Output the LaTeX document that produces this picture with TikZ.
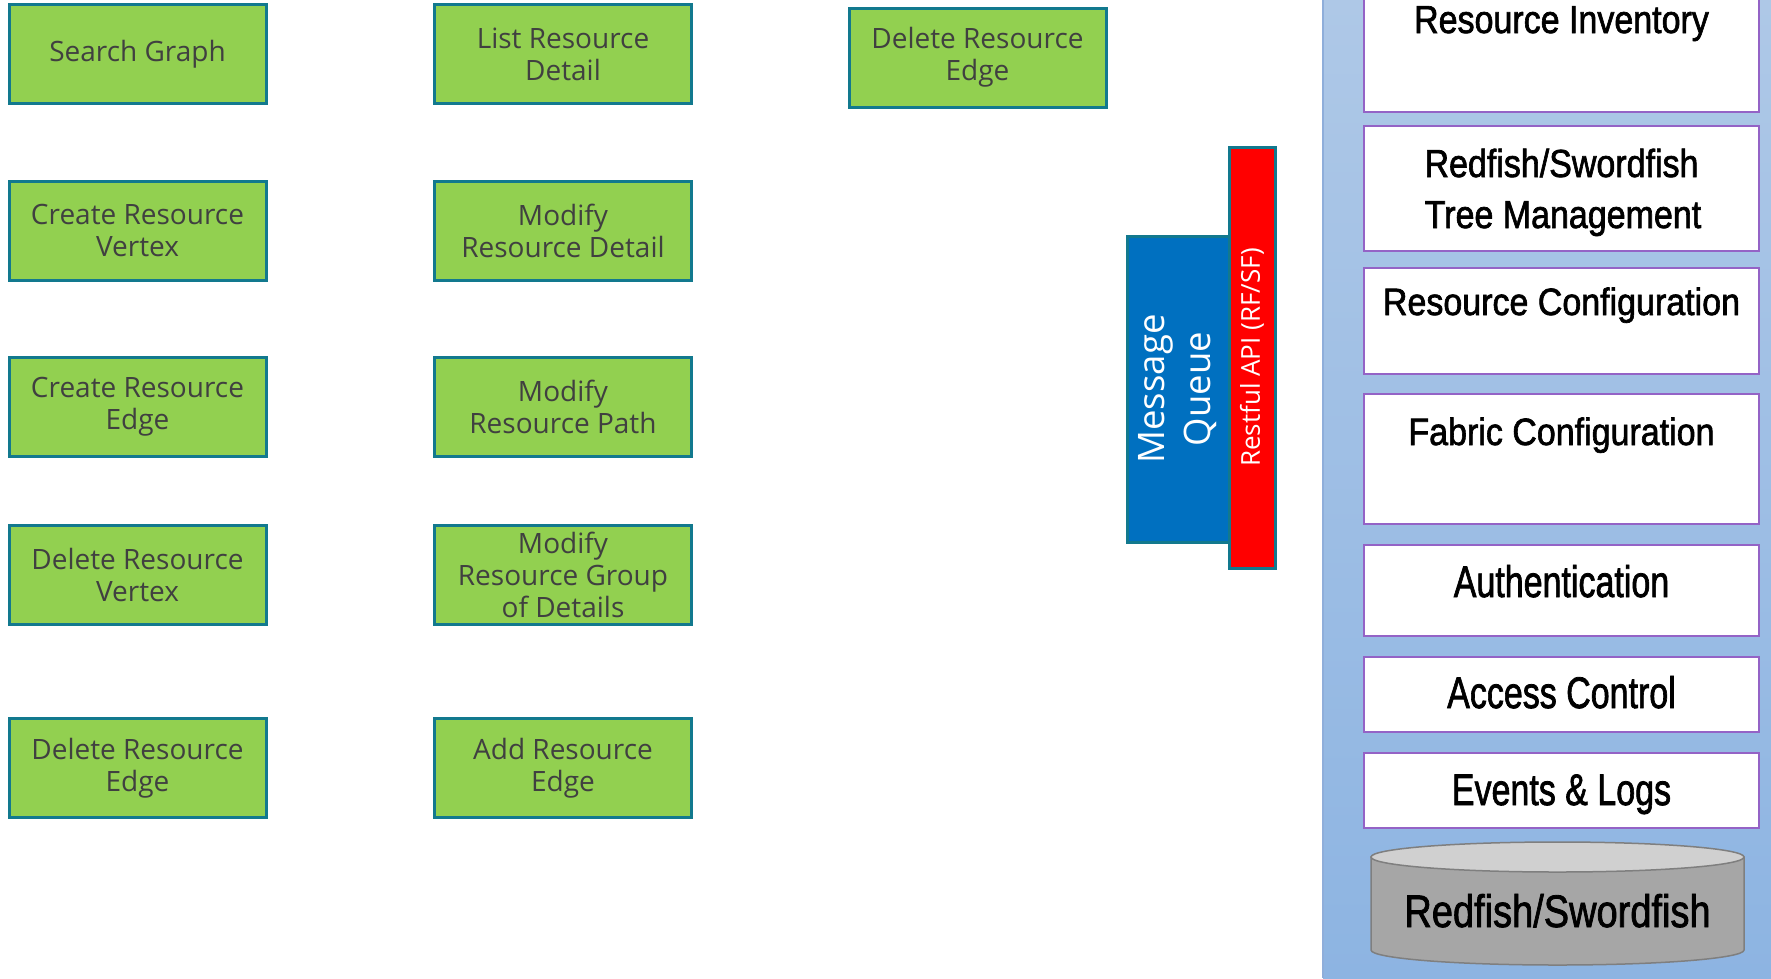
\documentclass[tikz,border=0pt]{standalone}
\usepackage{fontspec}
\setmainfont{Liberation Sans}
\newfontfamily\opensans{Open Sans}
\newfontfamily\svcfont[RawFeature={embolden=1.8}]{Liberation Sans}
\usetikzlibrary{positioning}

\definecolor{opgreen}{HTML}{92D050}
\definecolor{opedge}{HTML}{12798E}
\definecolor{optext}{HTML}{404040}
\definecolor{mqblue}{HTML}{0070C0}
\definecolor{apired}{HTML}{FF0000}
\definecolor{paneltop}{HTML}{AEC8E7}
\definecolor{panelbot}{HTML}{8DB4E2}
\definecolor{paneledge}{HTML}{8FAEDA}
\definecolor{svcedge}{HTML}{9463C6}
\definecolor{cylbody}{HTML}{A6A6A6}
\definecolor{cyltop}{HTML}{D0D0D0}
\definecolor{cyledge}{HTML}{7F7F7F}

\begin{document}
\begin{tikzpicture}[x=1pt,y=-1pt,
  opbox/.style={draw=opedge, fill=opgreen, line width=3pt,
    minimum width=257pt, minimum height=99pt, inner sep=0pt,
    align=center, text=optext, font=\opensans\fontsize{28}{32}\selectfont},
  svcbox/.style={draw=svcedge, fill=white, line width=1.5pt,
    minimum width=395pt, inner sep=0pt},
  svctext/.style={anchor=base, inner sep=0pt, font=\svcfont\fontsize{34}{40}\selectfont},
  mqbox/.style={draw=opedge, fill=mqblue, line width=3pt, inner sep=0pt,
    text=white, align=center, font=\opensans\fontsize{36.5}{46}\selectfont},
  apibox/.style={draw=opedge, fill=apired, line width=3pt, inner sep=0pt,
    text=white, align=center, font=\opensans\fontsize{26}{30}\selectfont}]
\useasboundingbox (0,0) rectangle (1771,978);

% operation boxes, first column
\node[opbox] (search) at (137.5,54)    {Search Graph};
\node[opbox] (crv)    at (137.5,230.5) {Create Resource\\Vertex};
\node[opbox] (cre)    at (137.5,406.5) {Create Resource\\Edge};
\node[opbox] (drv)    at (137.5,575)   {Delete Resource\\Vertex};
\node[opbox] (dre)    at (137.5,768)   {Delete Resource\\Edge};

% operation boxes, second column
\node[opbox] (lrd) at (563,54)    {List Resource\\Detail};
\node[opbox] (mrd) at (563,230.5) {Modify\\Resource Detail};
\node[opbox] (mrp) at (563,406.5) {Modify\\Resource Path};
\node[opbox] (mrg) at (563,575)   {Modify\\Resource Group\\of Details};
\node[opbox] (are) at (563,768)   {Add Resource\\Edge};

% operation box, third column
\node[opbox] (dre2) at (977.5,57.5) {Delete Resource\\Edge};

% message queue and REST API bars
\node[mqbox, rotate=90, minimum width=306pt, minimum height=102pt] (mq) at (1178,389) {Message\\Queue};
\node[apibox, rotate=90, minimum width=421pt, minimum height=46pt] (api) at (1252,357.5) {Restful API (RF/SF)};

% service panel
\shade[top color=paneltop, bottom color=panelbot] (1323,0) rectangle (1771,978);
\draw[paneledge, line width=1.5pt] (1323,0) -- (1323,978);

\node[svcbox, minimum height=132pt] (inv)  at (1561.5,46)    {};
\node[svcbox, minimum height=125pt] (tree) at (1561.5,188.5) {};
\node[svcbox, minimum height=106pt] (rcfg) at (1561.5,321)   {};
\node[svcbox, minimum height=130pt] (fcfg) at (1561.5,459)   {};
\node[svcbox, minimum height=91pt]  (auth) at (1561.5,590.5) {};
\node[svcbox, minimum height=75pt]  (acl)  at (1561.5,694.5) {};
\node[svcbox, minimum height=75pt]  (evt)  at (1561.5,790.5) {};

\node[svctext] (invt)   at (1561.5,33)  {\scalebox{1}[1.15]{Resource Inventory}};
\node[svctext] (treet1) at (1561.5,177) {\scalebox{1}[1.15]{Redfish/Swordfish}};
\node[svctext] (treet2) at (1563,228)   {\scalebox{1}[1.15]{Tree Management}};
\node[svctext] (rcfgt)  at (1561.5,315) {\scalebox{1}[1.12]{Resource Configuration}};
\node[svctext] (fcfgt)  at (1561.5,445) {\scalebox{1}[1.12]{Fabric Configuration}};
\node[svctext] (autht)  at (1561.5,597) {\scalebox{1}[1.3]{Authentication}};
\node[svctext] (aclt)   at (1561.5,708) {\scalebox{1}[1.3]{Access Control}};
\node[svctext] (evtt)   at (1561.5,805) {\scalebox{1}[1.3]{Events \& Logs}};

% storage cylinder
\draw[draw=cyledge, fill=cylbody, line width=1.5pt]
  (1371,857) -- (1371,950)
  arc[start angle=180, end angle=360, x radius=186.5pt, y radius=15pt]
  -- (1744,857) -- cycle;
\draw[draw=cyledge, fill=cyltop, line width=1.5pt]
  (1557.5,857) ellipse [x radius=186.5pt, y radius=15pt];
\node[anchor=base, inner sep=0pt, font=\svcfont\fontsize{38}{44}\selectfont] (store) at (1557.5,927)
  {\scalebox{1}[1.2]{Redfish/Swordfish}};
\end{tikzpicture}
\end{document}
